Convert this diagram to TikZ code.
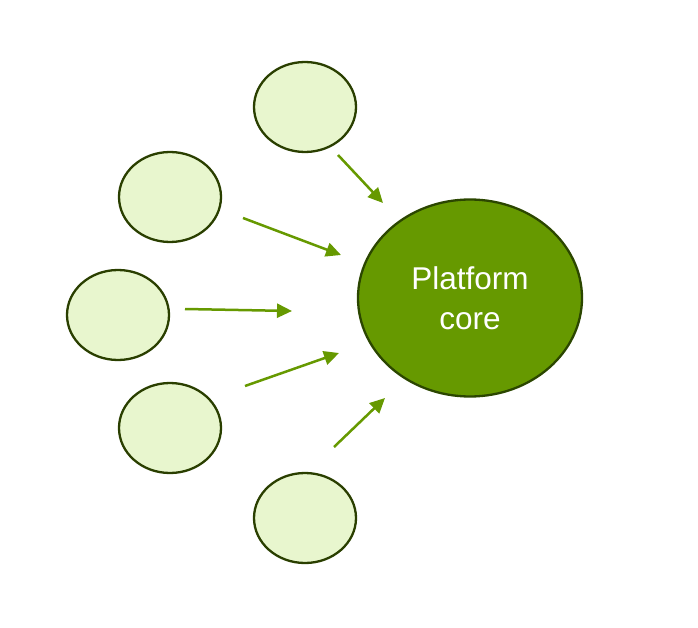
\documentclass[tikz,border=0pt]{standalone}
\usepackage{fontspec}
\setmainfont{Liberation Sans}
\usetikzlibrary{arrows.meta,shapes.geometric}
\definecolor{coregreen}{HTML}{669900}
\definecolor{coreborder}{HTML}{2B4600}
\definecolor{leaffill}{HTML}{E8F6CE}
\definecolor{leafborder}{HTML}{2A3F00}
\tikzset{
  leaf/.style={ellipse, draw=leafborder, fill=leaffill, line width=2.3pt, minimum width=102pt, minimum height=90pt, inner sep=0pt},
  core/.style={ellipse, draw=coreborder, fill=coregreen, line width=2.3pt, minimum width=224pt, minimum height=197pt, inner sep=0pt, text=white, font=\fontsize{31.5}{40}\selectfont, align=center},
  feed/.style={draw=coregreen, line width=2.5pt, -{Triangle[length=15pt,width=14pt]}}
}
\begin{document}
\begin{tikzpicture}[x=1pt,y=-1pt]
\useasboundingbox (0,0) rectangle (698,628);
\node[core] (c) at (470,298) {Platform\\core};
\node[leaf] (l1) at (305,107) {};
\node[leaf] (l2) at (170,197) {};
\node[leaf] (l3) at (118,315) {};
\node[leaf] (l4) at (170,428) {};
\node[leaf] (l5) at (305,518) {};
\coordinate (a1s) at (338,155); \coordinate (a1e) at (383,203);
\coordinate (a2s) at (243,218); \coordinate (a2e) at (341,255);
\coordinate (a3s) at (185,309); \coordinate (a3e) at (292,311);
\coordinate (a4s) at (245,386); \coordinate (a4e) at (339,353);
\coordinate (a5s) at (334,447); \coordinate (a5e) at (385,398);
\draw[feed] (a1s) -- (a1e);
\draw[feed] (a2s) -- (a2e);
\draw[feed] (a3s) -- (a3e);
\draw[feed] (a4s) -- (a4e);
\draw[feed] (a5s) -- (a5e);
\end{tikzpicture}
\end{document}
